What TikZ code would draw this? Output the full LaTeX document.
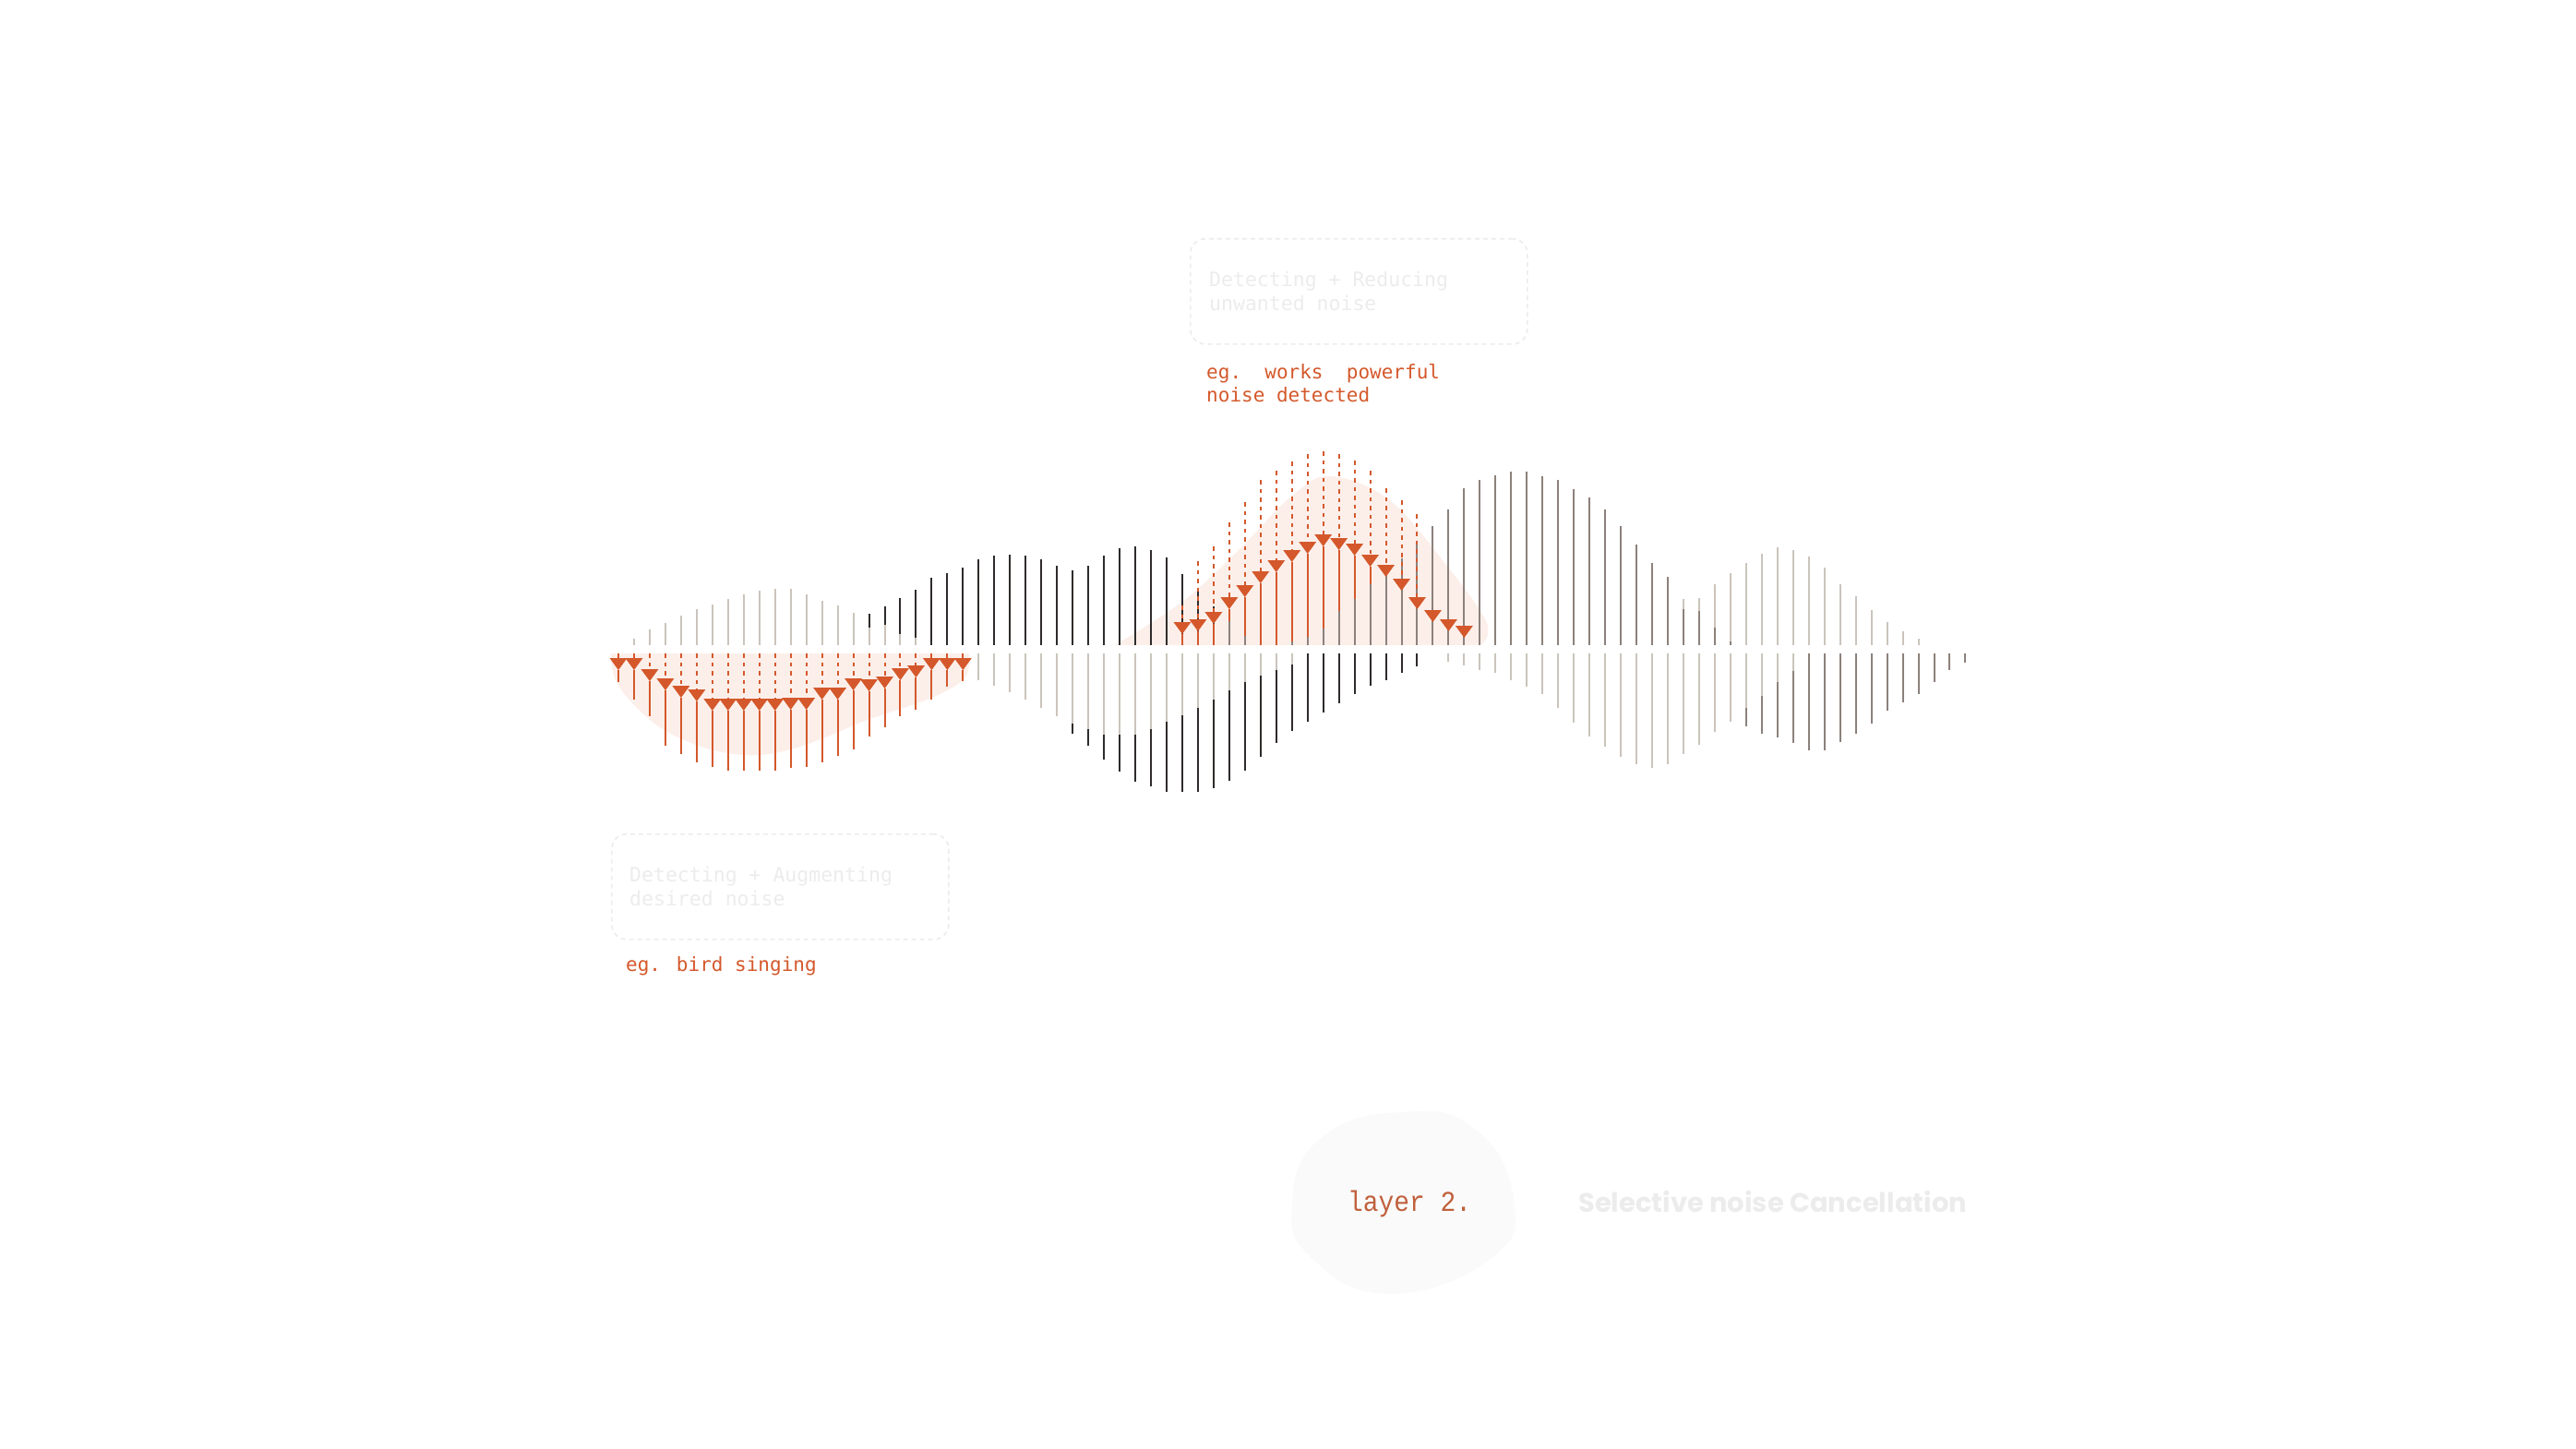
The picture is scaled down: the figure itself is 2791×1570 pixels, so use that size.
\documentclass[tikz,border=0pt]{standalone}
\usepackage{fontspec}
\setmainfont{DejaVu Sans}
\newfontfamily\monofont{DejaVu Sans Mono}
\newfontfamily\layerfont[FakeStretch=0.9]{Liberation Mono}
\newfontfamily\headfont{Poppins}
\usetikzlibrary{positioning}
\definecolor{noiseorange}{RGB}{212,88,43}
\definecolor{layerorange}{RGB}{192,96,60}
\definecolor{softpink}{RGB}{252,239,234}
\definecolor{wavedark}{RGB}{46,43,42}
\definecolor{wavebrown}{RGB}{140,129,123}
\definecolor{wavelight}{RGB}{203,196,188}
\definecolor{ghostgray}{RGB}{236,236,236}
\definecolor{blobgray}{RGB}{250,250,250}

\def\cutlist{36/656/674, 37/608/671, 38/592/663, 39/566/647, 40/544/634, 41/520/619, 42/510/607, 43/500/596, 44/492/587, 45/489/579, 46/492/583, 47/499/589, 48/510/601, 49/529/612, 50/542/627, 51/557/647, 52/661/661, 53/671/671, 54/678/678}
\def\boostlist{0/713/739, 1/713/758, 2/725/776, 3/735/808, 4/743/817, 5/747/826, 6/757/831, 7/757/835, 8/757/835, 9/757/835, 10/757/835, 11/756/832, 12/756/831, 13/745/826, 14/745/819, 15/735/812, 16/736/798, 17/733/788, 18/724/776, 19/721/769, 20/713/758, 21/713/744, 22/713/738}

\begin{document}
\begin{tikzpicture}[x=1pt, y=-1pt,
    bar/.style={line width=2pt},
    cutline/.style={noiseorange, line width=2pt},
    cutdash/.style={noiseorange, line width=2pt, dash pattern=on 4.5pt off 5pt},
    ghostbox/.style={draw=ghostgray, line width=1.6pt, dash pattern=on 5pt off 4pt, rounded corners=16pt, minimum width=365pt, minimum height=114pt, inner sep=0pt},
    ghosttext/.style={text=ghostgray, font=\monofont\fontsize{21.5}{26}\selectfont, align=left, inner sep=0pt},
    egtext/.style={text=noiseorange, font=\monofont\fontsize{21}{25}\selectfont, align=left, inner sep=0pt}
]
\useasboundingbox (0,0) rectangle (2791,1570);

\fill[softpink] plot[smooth, tension=0.6] coordinates {(1208,699) (1281,652) (1340,598) (1400,537) (1442,516) (1507,543) (1573,620) (1607,667) (1612,687) (1605,699)} -- cycle;
\fill[softpink] plot[smooth, tension=0.6] coordinates {(662,708) (667,737) (690,767) (723,793) (773,813) (823,818) (873,807) (940,780) (1007,757) (1045,735) (1050,708)} -- cycle;

\foreach[evaluate=\k as \xx using 670+16.97*\k] \k/\t in {16/665, 17/657, 18/648, 19/639, 20/626, 21/621, 22/615, 23/606, 24/602, 25/601, 26/602, 27/606, 28/613, 29/618, 30/613, 31/602, 32/594, 33/592, 34/596, 35/604, 36/622, 37/640, 38/657}
    \draw[bar, wavedark] (\xx,699) -- (\xx,\t);
\foreach[evaluate=\k as \xx using 670+16.97*\k] \k/\t in {1/692, 2/682, 3/675, 4/667, 5/660, 6/655, 7/649, 8/644, 9/640, 10/638, 11/638, 12/644, 13/651, 14/656, 15/664, 16/680, 17/677, 18/687, 19/691, 68/649, 69/648, 70/633, 71/621, 72/610, 73/600, 74/593, 75/596, 76/603, 77/615, 78/633, 79/646, 80/661, 81/674, 82/684, 83/692}
    \draw[bar, wavelight] (\xx,699) -- (\xx,\t);
\foreach[evaluate=\k as \xx using 670+16.97*\k] \k/\d/\b in \cutlist
    \draw[cutline] (\xx,{\b+13}) -- (\xx,699);
\foreach[evaluate=\k as \xx using 670+16.97*\k] \k/\t in {39/673, 40/689, 43/695, 44/690, 45/681, 46/662, 47/649, 48/633, 49/623, 50/605, 51/589, 52/570, 53/552, 54/529, 55/520, 56/515, 57/511, 58/511, 59/516, 60/520, 61/530, 62/539, 63/552, 64/570, 65/590, 66/610, 67/625, 68/660, 69/662, 70/680, 71/695}
    \draw[bar, wavebrown] (\xx,699) -- (\xx,\t);
\foreach[evaluate=\k as \xx using 670+16.97*\k] \k/\d/\b in \cutlist {
    \draw[cutdash] (\xx,\d) -- (\xx,\b);
    \fill[noiseorange] ({\xx-9.5},\b) -- ({\xx+9.5},\b) -- (\xx,{\b+13}) -- cycle;
}

\foreach[evaluate=\k as \xx using 670+16.97*\k] \k/\t in {29/795, 30/808, 31/823, 32/836, 33/847, 34/852, 35/858, 36/858, 37/858, 38/854, 39/846, 40/835, 41/820, 42/805, 43/792, 44/782, 45/772, 46/762, 47/752, 48/743, 49/737, 50/729, 51/722}
    \draw[bar, wavedark] (\xx,708) -- (\xx,\t);
\foreach[evaluate=\k as \xx using 670+16.97*\k] \k/\t in {72/787, 73/795, 74/799, 75/805, 76/813, 77/813, 78/804, 79/795, 80/784, 81/770, 82/761, 83/752, 84/739, 85/726, 86/718}
    \draw[bar, wavebrown] (\xx,708) -- (\xx,\t);
\foreach[evaluate=\k as \xx using 670+16.97*\k] \k/\t in {23/737, 24/743, 25/750, 26/758, 27/767, 28/776, 29/784, 30/790, 31/796, 32/796, 33/796, 34/790, 35/782, 36/775, 37/767, 38/758, 39/748, 40/739, 41/732, 42/726, 43/720, 53/717, 54/721, 55/726, 56/729, 57/737, 58/744, 59/752, 60/767, 61/783, 62/798, 63/809, 64/820, 65/828, 66/832, 67/828, 68/817, 69/807, 70/793, 71/782, 72/767, 73/754, 74/739, 75/727}
    \draw[bar, wavelight] (\xx,708) -- (\xx,\t);
\foreach[evaluate=\k as \xx using 670+16.97*\k] \k/\b/\e in \boostlist {
    \draw[cutdash] (\xx,708) -- (\xx,\b);
    \draw[cutline] (\xx,{\b+13}) -- (\xx,\e);
    \fill[noiseorange] ({\xx-9.5},\b) -- ({\xx+9.5},\b) -- (\xx,{\b+13}) -- cycle;
}

\node[ghostbox, anchor=north west] (reducebox) at (1289,258) {};
\node[ghosttext, anchor=west] (reducetext) at ([xshift=21pt]reducebox.west) {Detecting + Reducing\\unwanted noise};
\node[egtext, anchor=north west] (reducenote) at ([xshift=18pt, yshift=-21pt]reducebox.south west) {eg.\ \ works\ \ powerful\\noise detected};

\node[ghostbox, anchor=north west] (boostbox) at (662,903) {};
\node[ghosttext, anchor=west] (boosttext) at ([xshift=20pt]boostbox.west) {Detecting + Augmenting\\desired noise};
\node[egtext, anchor=north west] (boostnote) at ([xshift=16pt, yshift=-18pt]boostbox.south west) {eg. bird singing};

\fill[blobgray] plot[smooth cycle, tension=0.8] coordinates {(1400,1303) (1431,1233) (1518,1205) (1598,1223) (1640,1300) (1616,1363) (1506,1402) (1421,1363)};
\node[text=layerorange, font=\layerfont\fontsize{31}{34}\selectfont, anchor=base west, inner sep=0pt] (layer) at (1460,1312) {layer 2.};
\node[text=ghostgray, font=\headfont\bfseries\fontsize{29}{33}\selectfont, anchor=base west, inner sep=0pt] (title) at (1710,1313) {Selective noise Cancellation};
\end{tikzpicture}
\end{document}
